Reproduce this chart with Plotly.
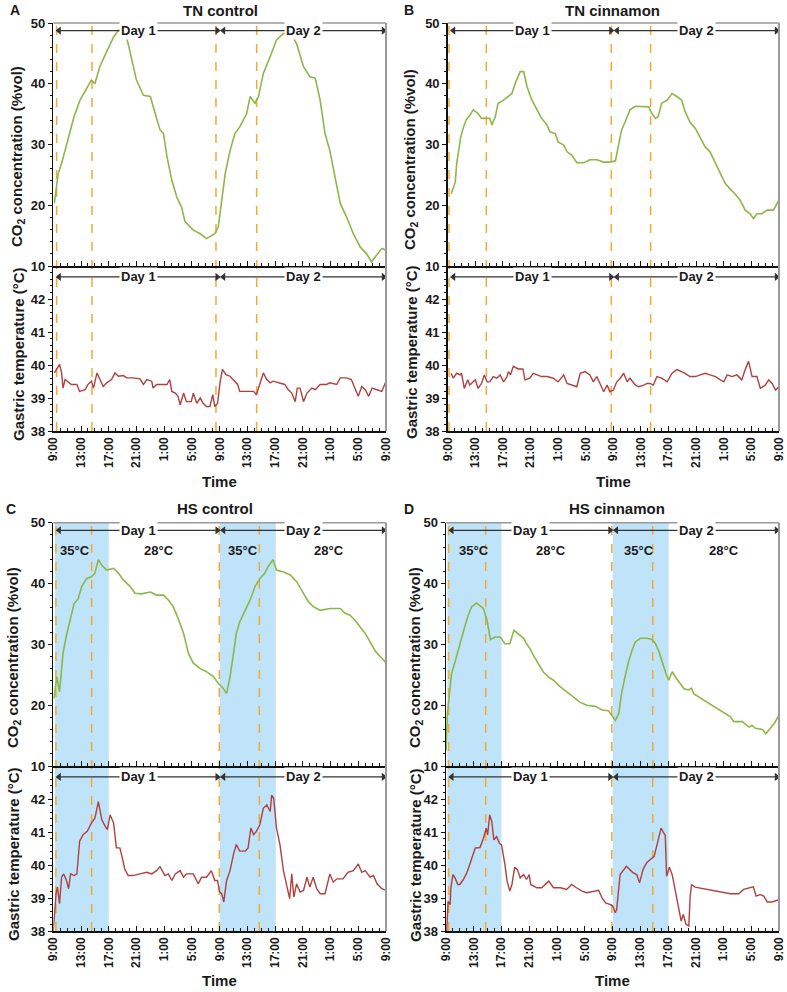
import plotly.graph_objects as go

# ---------------- data (hours after 9:00 of day 1) ----------------
A_co2_t = [0.15,0.7,1.2,1.7,2.4,3,3.85,4.8,5.5,6,6.7,7.7,8.7,9.4,10.3,10.8,11.5,12,13,14,14.7,15.4,15.9,16.4,17.1,17.8,18.5,19,20.2,21.2,22.1,23.3,23.8,24.3,24.8,25.5,26.2,26.9,27.9,28.4,29.1,29.6,30.3,31.3,32.2,33.2,34.2,35.1,36.1,37,37.8,38.5,39.2,39.9,40.6,41.4,42.3,43.3,44.3,45.2,45.9,46.6,47.4,48]
A_co2_v = [20.3,25.2,26.9,29,31.8,34.6,37.3,39.2,40.6,40,42.8,45.3,47.7,48.8,48.6,46.6,42.8,40.6,38.1,37.9,35.1,32.4,31.8,28,24.1,21.4,19.7,17.3,15.9,15.3,14.5,15.3,16.4,20.8,25.2,29,31.8,32.9,35.1,37.9,36.8,37.9,41.7,44.5,47.2,48.3,48.3,46.6,42.8,41.2,40.9,37.3,31.8,29,25.2,20.3,18.1,15.3,13.1,12,10.7,11.8,12.9,12.6]

A_tmp_t = [0.15,0.9,1.2,1.4,1.7,2.2,2.6,3.4,3.8,4.6,5.0,5.5,5.8,6.3,6.7,7.2,7.7,8.4,8.9,9.4,10.1,10.6,11.5,12.5,13,13.5,14.2,14.4,14.9,16.4,16.8,17.1,17.6,18,18.3,18.8,19.2,19.9,20.2,20.7,21.2,21.6,22.1,22.6,23,23.3,23.7,24.05,24.4,24.9,25.5,26,26.6,26.9,27.9,28.9,29.3,29.8,30.3,30.8,31.3,31.7,32.7,33.4,33.9,34.4,34.9,35.2,35.6,36.1,36.6,37.3,37.8,38.5,39.4,39.9,40.9,41.4,42.3,43,43.5,44,44.5,45,45.5,46,46.7,47.4,48]
A_tmp_v = [39.76,40.02,39.76,39.30,39.56,39.46,39.41,39.41,39.20,39.25,39.41,39.51,39.30,39.76,39.56,39.35,39.46,39.56,39.76,39.66,39.68,39.61,39.61,39.58,39.41,39.56,39.51,39.30,39.41,39.41,39.56,39.20,39.15,39.05,38.79,39.15,38.89,38.89,39.15,38.84,39.0,38.84,38.74,38.74,39.10,38.74,38.84,39.46,39.87,39.71,39.66,39.56,39.41,39.20,39.20,39.20,39.10,39.46,39.76,39.56,39.46,39.51,39.46,39.41,39.25,39.15,38.89,39.30,39.30,38.89,39.15,39.30,39.25,39.41,39.41,39.46,39.41,39.61,39.61,39.56,39.30,39.05,39.35,39.25,39.05,39.30,39.25,39.20,39.51]

B_co2_t = [0.5,0.7,1.1,1.3,1.5,1.9,2.3,2.7,3.2,3.7,4.4,4.9,6.1,6.4,6.9,7.3,8.1,8.8,9.3,9.8,10.5,11,11.5,12.2,12.9,13.6,14.4,14.8,15.6,16,16.8,17.3,18,18.7,19.7,20.6,21.6,22.6,23.5,24.3,24.7,25.2,25.7,26.4,27.2,28.4,29.1,29.6,30.1,30.5,31,31.8,32.5,33.2,33.9,34.4,35.1,35.9,36.6,37.3,38,38.8,39.5,40.2,40.9,41.6,42.4,43.1,43.8,44.3,44.8,45.5,46.3,47.2,48]
B_co2_v = [21.9,22.5,23.8,26.9,28.5,31.3,32.9,34.1,34.8,35.7,35.1,34.3,34.3,33.2,34.6,36.8,37.3,37.9,38.4,40.1,42,42,39.5,37.3,35.9,34.3,33.2,32.1,31.8,30.4,29.9,28.8,28.2,27,27,27.5,27.5,27.1,27.1,27.3,29.6,32.4,33.7,35.7,36.3,36.3,36.2,35.1,34.3,34.6,36.8,37.3,38.4,37.9,37.3,35.4,33.7,32.6,31,29.6,28.8,26.9,25.2,23.6,22.7,21.9,20.8,19.2,18.6,17.8,18.6,18.6,19.2,19.2,20.9]

B_tmp_t = [0.5,0.8,1.3,1.8,2.0,2.4,2.9,3.2,4.0,4.4,4.9,5.3,5.7,6.1,6.6,7.1,7.6,8.1,8.6,8.8,9.1,9.5,10.2,10.9,11.2,11.9,12.4,12.9,13.6,14.4,15.3,16,16.8,17.3,18,18.7,19.2,19.9,20.6,21.1,21.6,22.1,22.6,23.1,23.5,24,24.5,25,25.5,26,26.4,27.2,27.7,28.4,28.9,29.3,29.8,30.3,31,31.8,32.5,33.2,34.2,35.1,35.9,36.6,37.3,38,38.8,39.5,40,40.5,41.2,41.9,42.6,43.1,43.6,44.1,44.8,45.3,46,46.5,47,47.5,48]
B_tmp_v = [39.75,39.60,39.75,39.70,39.75,39.29,39.55,39.39,39.55,39.29,39.44,39.70,39.49,39.49,39.65,39.60,39.70,39.49,39.65,39.80,39.70,39.96,39.88,39.88,39.55,39.60,39.75,39.70,39.65,39.65,39.60,39.49,39.70,39.44,39.39,39.34,39.75,39.80,39.70,39.49,39.65,39.39,39.19,39.39,39.19,39.24,39.49,39.60,39.75,39.49,39.60,39.39,39.34,39.39,39.44,39.44,39.39,39.65,39.60,39.49,39.75,39.86,39.77,39.65,39.65,39.70,39.75,39.70,39.65,39.55,39.49,39.70,39.65,39.70,39.55,39.86,40.11,39.65,39.65,39.29,39.39,39.55,39.44,39.24,39.34]

C_co2_t = [0.1,0.5,0.9,1.1,1.4,1.9,2.4,3,3.6,4.1,4.8,5.5,6,6.5,7,7.7,8.7,9.4,10.1,11.1,11.8,12.7,14,14.9,15.9,16.6,17.3,18,18.8,19.5,20.2,21.2,22.1,23.1,23.8,24.5,25,25.5,26,26.4,26.9,27.7,28.4,29.1,29.8,30.5,31,31.7,32.2,33.2,34.2,35.1,36.1,36.8,37.5,38.5,39.9,41.4,42.1,42.8,43.5,44.3,45,45.7,46.4,47,48]
C_co2_v = [21.1,24.7,22.2,25.2,28.5,31.5,34,36.7,37.5,39.5,40.8,41.1,41.7,43.9,43,42.2,42.5,41.7,40.6,39.5,38.4,38.3,38.6,38.1,38.1,37.3,36.2,34.3,31.8,28.5,26.9,26,25.5,24.7,23.6,22.8,21.9,24.7,28.5,31.8,33.7,35.6,37.3,39.5,40.8,41.7,42.8,43.9,42.2,41.9,41.4,40.3,38.4,37,36.2,35.6,35.9,35.9,35.1,34.8,34,32.9,31.8,30.4,29,28.2,27]

C_tmp_t = [0,0.4,0.6,0.9,1.2,1.5,1.9,2.2,2.5,3,3.4,3.8,4.3,4.9,5.5,6,6.5,7,7.5,7.8,8.2,8.7,9.1,9.6,10,10.3,10.8,11.5,12.5,13.5,14.2,14.9,15.4,16.1,16.6,17.1,17.6,18.3,18.8,19.2,20.2,20.9,21.4,22.1,22.8,23.3,23.7,24,24.3,24.6,25,25.5,26,26.4,26.9,27.7,28.1,28.5,28.9,29.3,29.8,30.3,30.8,31.3,31.5,31.8,32.2,32.7,33.2,33.6,34.1,34.4,34.7,35.1,35.6,36.1,36.6,37,37.5,38,38.5,39.2,39.9,40.4,40.9,41.8,42.5,43.3,44,44.5,45,45.7,46.2,46.7,47.4,48]
C_tmp_v = [38.0,39.13,39.33,38.83,39.63,39.73,39.53,39.28,39.73,39.68,39.73,40.72,40.92,41.02,41.27,41.42,41.92,41.37,41.17,41.07,41.52,41.27,40.52,40.52,40.18,39.88,39.68,39.68,39.73,39.78,39.73,39.83,39.95,39.68,39.73,39.53,39.73,39.83,39.63,39.73,39.73,39.43,39.63,39.63,39.83,39.53,39.53,39.18,39.13,38.88,39.53,39.83,40.33,40.62,40.42,40.42,40.52,41.12,40.92,41.02,41.22,41.72,41.82,41.62,42.12,42.02,41.12,40.62,39.83,39.43,38.98,39.73,39.03,39.43,39.18,39.23,39.63,39.33,39.63,39.28,39.13,39.13,39.73,39.48,39.58,39.58,39.78,39.83,40.03,39.78,39.83,39.63,39.68,39.43,39.28,39.23]

D_co2_t = [0,0.2,0.5,0.8,1.3,1.8,2.3,2.7,3.2,3.7,4.4,4.9,5.4,5.9,6.4,7.1,7.8,8.5,9.2,9.8,10.4,11.2,11.6,12.1,12.6,13.3,14,14.8,15.5,16.4,17.4,18.4,19.3,20.3,21.5,22.5,23.4,23.9,24.4,24.9,25.3,25.8,26.3,26.8,27.3,28,29,29.7,30.2,30.7,31.2,31.7,32.1,32.6,33.1,33.6,34.3,35,35.4,35.7,41,41.5,42.2,42.7,43.7,44.1,44.6,45.6,46.1,46.6,47.3,48]
D_co2_v = [12.5,18.6,21.9,25.2,27.1,29.3,31.2,32.9,34.8,36.2,36.8,36.4,35.9,34,30.8,31.2,31.2,30.1,30.1,32.3,31.8,31,30.1,29.3,28.2,26.8,25.5,24.6,24.1,23.1,22.2,21.4,20.5,20,19.8,19.2,19.1,18.3,17.5,18.6,21.9,24.6,27.1,29,30.4,31,31,30.8,30.1,28.8,26.8,25.2,24.1,25.5,24.6,23.8,22.7,22.5,22.8,21.9,18.1,17.3,17.3,17.3,16.4,16.7,16.2,16,15.3,16,17,18.3]

D_tmp_t = [0.1,0.3,0.6,0.7,1,1.3,1.7,2,2.5,3,3.5,4.2,4.9,5.4,5.8,6,6.3,6.6,6.9,7.3,7.7,8,8.5,8.8,9.2,9.5,9.9,10.3,10.7,11.2,11.6,12,12.2,13.1,13.8,14.8,15.5,16.5,17.4,18.1,18.8,19.6,20.3,21.3,22,22.5,23,23.7,24.05,24.4,24.6,25.1,25.6,26,26.5,27,27.5,27.9,28.4,28.9,29.4,30,30.3,30.6,31,31.4,31.6,31.8,32.2,32.6,32.9,33.2,33.5,33.9,34.2,34.6,35,35.2,35.4,35.9,41,41.5,42.2,42.9,43.9,44.3,44.7,45.3,45.8,46.3,47,48]
D_tmp_v = [38.0,38.9,38.8,39.31,39.71,39.61,39.41,39.41,39.56,39.76,40.06,40.51,40.53,40.81,41.12,40.91,41.52,41.32,40.76,40.86,40.66,40.61,40.01,39.51,39.21,39.41,39.93,39.86,39.61,39.71,39.56,39.71,39.41,39.31,39.31,39.51,39.31,39.31,39.26,39.41,39.31,39.21,39.16,39.21,39.23,39.0,38.85,38.8,38.75,38.55,38.65,39.71,39.86,39.96,39.86,39.76,39.71,39.46,39.86,40.06,40.16,40.26,40.51,40.81,41.12,40.96,40.91,39.66,39.93,39.71,39.41,39.0,38.8,38.3,38.5,38.2,38.15,39.06,39.41,39.33,39.13,39.13,39.13,39.26,39.31,39.34,39.06,39.1,39.06,38.88,38.88,38.95]

tick_hours = [0,4,8,12,16,20,24,28,32,36,40,44,48]
tick_labels = ["9:00","13:00","17:00","21:00","1:00","5:00","9:00","13:00","17:00","21:00","1:00","5:00","9:00"]
co2_ticks = [10,20,30,40,50]
tmp_ticks = [38,39,40,41,42]

panel_letters = ["A","B","C","D"]
panel_titles = ["TN control","TN cinnamon","HS control","HS cinnamon"]
event_hours = [[0.48,5.58,23.47,29.34],[0.19,5.6,23.7,29.4],[0.38,5.53,23.95,29.73],[0.38,5.72,23.9,29.8]]
heat_periods = [[], [], [[0.25,8.0],[24.05,32.1]], [[0.2,8.0],[24.05,32.1]]]
room_labels = [[], [], [(3.1,"35°C"),(15.2,"28°C"),(27.4,"35°C"),(39.8,"28°C")],
               [(4.0,"35°C"),(15.2,"28°C"),(27.8,"35°C"),(40.0,"28°C")]]
day_spans = [(0.48,24.0,"Day 1"),(24.2,48.0,"Day 2")]

series = [(A_co2_t,A_co2_v,A_tmp_t,A_tmp_v),(B_co2_t,B_co2_v,B_tmp_t,B_tmp_v),
          (C_co2_t,C_co2_v,C_tmp_t,C_tmp_v),(D_co2_t,D_co2_v,D_tmp_t,D_tmp_v)]
for s in series:
    assert len(s[0]) == len(s[1]) and len(s[2]) == len(s[3])

# ---------------- layout geometry (pixels) ----------------
W, H = 787, 992
geo = [dict(x0=53.3, x1=386, top=23, mid=266, bot=431, ttl_y=10, let_x=8, ttl_x=220, ylab_x=18, co2lab_y=157, tmplab_y=354, time_y=481),
       dict(x0=447.7, x1=779, top=23, mid=266, bot=431, ttl_y=10, let_x=402, ttl_x=612, ylab_x=411, co2lab_y=160, tmplab_y=352, time_y=481),
       dict(x0=53.3, x1=386, top=522.7, mid=766, bot=931, ttl_y=509, let_x=4, ttl_x=215, ylab_x=13, co2lab_y=658, tmplab_y=854, time_y=980),
       dict(x0=446, x1=779, top=522.7, mid=766, bot=931, ttl_y=509, let_x=402, ttl_x=617, ylab_x=415, co2lab_y=658, tmplab_y=855, time_y=980)]

def fx(px): return px / W
def fy(py): return 1 - py / H

FONT = "Liberation Sans, Arial, sans-serif"
TXT = "#1a1a1a"
GREEN = "#8db749"
RED = "#b0413e"
ORANGE = "#f5a833"
BLUE = "#bfe3f8"
GRAY = "#9a9a9a"
ARROW = "#333333"

fig = go.Figure()
layout = dict(width=W, height=H, margin=dict(l=0, r=0, t=0, b=0, pad=0, autoexpand=False), showlegend=False,
              paper_bgcolor="white", plot_bgcolor="rgba(0,0,0,0)", font=dict(family=FONT, color=TXT),
              hovermode=False)
shapes, annos = [], []

def ax_name(k, letter):
    return letter if k == 1 else f"{letter}{k}"

for i, g in enumerate(geo):
    kc, kt = 2 * i + 1, 2 * i + 2
    xd = [fx(g["x0"]), fx(g["x1"])]
    yc = [fy(g["mid"]), fy(g["top"])]
    yt = [fy(g["bot"]), fy(g["mid"])]
    for k, yd, is_bottom in [(kc, yc, False), (kt, yt, True)]:
        xa = dict(domain=xd, anchor=ax_name(k, "y"), range=[0, 48], showgrid=False, zeroline=False,
                  automargin=False,
                  showline=True, linecolor="#111", linewidth=1.5, ticks="inside", ticklen=5, tickwidth=1,
                  tickcolor="#111", tickvals=tick_hours, showticklabels=is_bottom,
                  minor=dict(ticks="inside", dtick=1, tick0=0, ticklen=3, tickcolor="#111"))
        if is_bottom:
            xa.update(ticktext=[f"<b>{t}</b>" for t in tick_labels], tickangle=-90,
                      tickfont=dict(size=12, color=TXT))
            ya = dict(domain=yd, anchor=ax_name(k, "x"), range=[38, 43], tickvals=tmp_ticks,
                      ticktext=[f"<b>{t}</b>" for t in tmp_ticks],
                      minor=dict(ticks="outside", dtick=0.2, tick0=38, ticklen=2, tickcolor="#111"))
        else:
            ya = dict(domain=yd, anchor=ax_name(k, "x"), range=[10, 50], tickvals=co2_ticks,
                      ticktext=[f"<b>{t}</b>" for t in co2_ticks],
                      minor=dict(ticks="outside", dtick=2, tick0=10, ticklen=2, tickcolor="#111"))
        ya.update(showgrid=False, zeroline=False, showline=True, linecolor="#111", linewidth=1.5,
                  automargin=False,
                  ticks="outside", ticklen=4, tickcolor="#111", tickfont=dict(size=13, color=TXT))
        layout["xaxis" if k == 1 else f"xaxis{k}"] = xa
        layout["yaxis" if k == 1 else f"yaxis{k}"] = ya

    xr_c, yr_c = ax_name(kc, "x"), ax_name(kc, "y")
    xr_t, yr_t = ax_name(kt, "x"), ax_name(kt, "y")

    # heat-stress shading
    for (a, b) in heat_periods[i]:
        shapes.append(dict(type="rect", xref=xr_c, yref="paper", x0=a, x1=b, y0=yt[0], y1=yc[1],
                           fillcolor=BLUE, line=dict(width=0), layer="below"))
    # event dashed lines
    for h in event_hours[i]:
        shapes.append(dict(type="line", xref=xr_c, yref="paper", x0=h, x1=h, y0=yt[0], y1=yc[1],
                           line=dict(color=ORANGE, width=1.5, dash="dash"), layer="below"))
    # grey frame (top and right)
    shapes.append(dict(type="line", xref="paper", yref="paper", x0=xd[0], x1=xd[1], y0=yc[1], y1=yc[1],
                       line=dict(color=GRAY, width=1.5)))
    shapes.append(dict(type="line", xref="paper", yref="paper", x0=xd[1], x1=xd[1], y0=yt[0], y1=yc[1],
                       line=dict(color=GRAY, width=2)))

    ct, cv, tt, tv = series[i]
    fig.add_trace(go.Scatter(x=ct, y=cv, xaxis=xr_c, yaxis=yr_c, mode="lines",
                             line=dict(color=GREEN, width=1.6), hoverinfo="skip"))
    fig.add_trace(go.Scatter(x=tt, y=tv, xaxis=xr_t, yaxis=yr_t, mode="lines",
                             line=dict(color=RED, width=1.4), hoverinfo="skip"))

    # day arrows: shaft as shape, heads as triangle markers, label with white box
    for (xr, yr, yv) in [(xr_c, yr_c, 48.75), (xr_t, yr_t, 42.67)]:
        for (a, b, lab) in day_spans:
            m = (a + b) / 2
            shapes.append(dict(type="line", xref=xr, yref=yr, x0=a + 0.3, x1=b - 0.3, y0=yv, y1=yv,
                               line=dict(color=ARROW, width=1.3)))
            fig.add_trace(go.Scatter(x=[a + 0.35, b - 0.35], y=[yv, yv], xaxis=xr, yaxis=yr, mode="markers",
                                     marker=dict(symbol=["triangle-left", "triangle-right"], size=7,
                                                 color=ARROW, line=dict(width=0)),
                                     hoverinfo="skip"))
            annos.append(dict(x=m, y=yv, xref=xr, yref=yr, text=f"<b>{lab}</b>", showarrow=False,
                              bgcolor="white", borderpad=1, font=dict(size=13, color=TXT)))
    for (h, lab) in room_labels[i]:
        annos.append(dict(x=h, y=45.4, xref=xr_c, yref=yr_c, text=f"<b>{lab}</b>", showarrow=False,
                          font=dict(size=13, color=TXT)))

    # titles and labels
    annos.append(dict(x=fx(g["ttl_x"]), y=fy(g["ttl_y"]), xref="paper", yref="paper",
                      text=f"<b>{panel_titles[i]}</b>", showarrow=False, font=dict(size=15, color=TXT),
                      xanchor="center", yanchor="middle"))
    annos.append(dict(x=fx(g["let_x"]), y=fy(g["ttl_y"]), xref="paper", yref="paper",
                      text=f"<b>{panel_letters[i]}</b>", showarrow=False, font=dict(size=14, color=TXT),
                      xanchor="left", yanchor="middle"))
    annos.append(dict(x=fx(g["ylab_x"]), y=fy(g["co2lab_y"]), xref="paper", yref="paper",
                      text="<b>CO<sub>2</sub> concentration (%vol)</b>", textangle=-90, showarrow=False,
                      font=dict(size=15, color=TXT), xanchor="center", yanchor="middle"))
    annos.append(dict(x=fx(g["ylab_x"]), y=fy(g["tmplab_y"]), xref="paper", yref="paper",
                      text="<b>Gastric temperature (°C)</b>", textangle=-90, showarrow=False,
                      font=dict(size=15, color=TXT), xanchor="center", yanchor="middle"))
    annos.append(dict(x=(xd[0] + xd[1]) / 2, y=fy(g["time_y"]), xref="paper", yref="paper",
                      text="<b>Time</b>", showarrow=False, font=dict(size=15, color=TXT),
                      xanchor="center", yanchor="middle"))

layout["shapes"] = shapes
layout["annotations"] = annos
fig.update_layout(**layout)
# remove the default 8px page margin so the figure sits at the page origin; hide the mode bar
fig.write_html("out.html", config={"displayModeBar": False, "staticPlot": True},
               post_script="document.body.style.margin='0';")
